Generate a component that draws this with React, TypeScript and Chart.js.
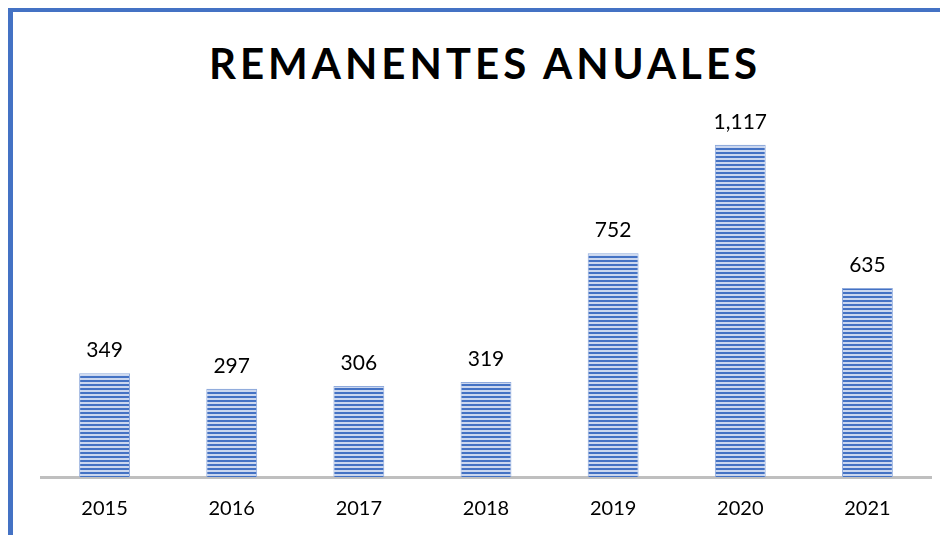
import React, { useEffect, useRef } from "react";
import { Chart, registerables } from "chart.js";

Chart.register(...registerables);

const TITLE = "REMANENTES ANUALES";
const YEARS = ["2015", "2016", "2017", "2018", "2019", "2020", "2021"];
const VALUES = [349, 297, 306, 319, 752, 1117, 635];
const Y_MAX = 1200;

function makePattern(ctx: CanvasRenderingContext2D): CanvasPattern | string {
  const c = document.createElement("canvas");
  c.width = 8;
  c.height = 4;
  const p = c.getContext("2d");
  if (!p) return "#4472C4";
  p.fillStyle = "#CBD7EF";
  p.fillRect(0, 0, 8, 4);
  p.fillStyle = "#4472C4";
  p.fillRect(0, 0, 8, 2);
  return ctx.createPattern(c, "repeat") || "#4472C4";
}

const labelPlugin = {
  id: "valueLabels",
  afterDatasetsDraw(chart: any) {
    const ctx = chart.ctx;
    const meta = chart.getDatasetMeta(0);
    ctx.save();
    ctx.font = "21px Lato, 'Open Sans', sans-serif";
    ctx.fillStyle = "#000000";
    ctx.textAlign = "center";
    ctx.textBaseline = "alphabetic";
    meta.data.forEach((bar: any, i: number) => {
      const v = VALUES[i];
      ctx.fillText(v.toLocaleString("en-US"), bar.x, bar.y - 16);
    });
    ctx.restore();
  },
};

export default function App() {
  const ref = useRef<HTMLCanvasElement>(null);
  useEffect(() => {
    document.body.style.overflow = "hidden";
    const canvas = ref.current;
    if (!canvas) return;
    const ctx = canvas.getContext("2d")!;
    const pattern = makePattern(ctx);
    const chart = new Chart(canvas, {
      type: "bar",
      data: {
        labels: YEARS,
        datasets: [
          {
            data: VALUES,
            backgroundColor: pattern as any,
            borderColor: "#8FAADC",
            borderWidth: 1,
            barPercentage: 0.4,
            categoryPercentage: 1,
          },
        ],
      },
      options: {
        animation: false,
        responsive: false,
        maintainAspectRatio: false,
        layout: { padding: { left: 28, right: 17, top: 108, bottom: -6 } },
        plugins: {
          legend: { display: false },
          title: { display: false },
          tooltip: { enabled: false },
        },
        scales: {
          x: {
            grid: { display: false, drawTicks: false },
            border: { display: true, color: "#BFBFBF", width: 3 },
            ticks: {
              padding: 20,
              color: "#000000",
              font: { family: "Lato, 'Open Sans', sans-serif", size: 20 },
            },
          },
          y: {
            display: false,
            min: 0,
            max: Y_MAX,
          },
        },
      },
      plugins: [labelPlugin],
    });
    return () => chart.destroy();
  }, []);

  return (
    <div
      style={{
        position: "relative",
        width: 935,
        height: 523,
        borderTop: "4px solid #4472C4",
        borderLeft: "5px solid #4472C4",
        background: "#FFFFFF",
      }}
    >
      <div
        style={{
          position: "absolute",
          left: 0,
          top: 26,
          width: 944,
          textAlign: "center",
          fontFamily: "Lato, 'Open Sans', sans-serif",
          fontWeight: 700,
          fontSize: 42,
          letterSpacing: 4,
          lineHeight: "50px",
          color: "#000000",
        }}
      >
        {TITLE}
      </div>
      <canvas
        ref={ref}
        width={935}
        height={523}
        style={{ position: "absolute", left: 0, top: 0, display: "block" }}
      />
    </div>
  );
}
